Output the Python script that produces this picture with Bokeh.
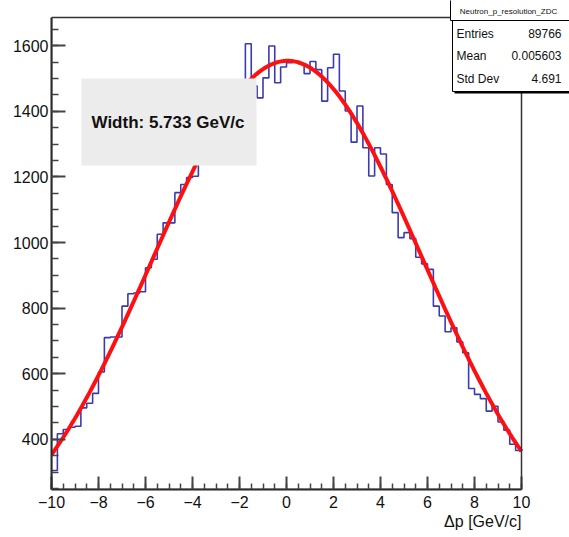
import numpy as np
from bokeh.plotting import figure
from bokeh.models import BoxAnnotation, Label, FixedTicker, Range1d, Title
from bokeh.embed import file_html
from bokeh.resources import INLINE

# ---------------- data ----------------
bin_lo, bin_hi = -10.0, 10.0
counts = [305, 417, 430, 437, 440, 496, 510, 540, 605, 710,
          712, 712, 806, 844, 846, 850, 923, 949, 1025, 1060,
          1060, 1152, 1177, 1198, 1202, 1262, 1318, 1330, 1375, 1388,
          1430, 1452, 1466, 1606, 1477, 1441, 1502, 1599, 1487, 1535,
          1548, 1552, 1545, 1515, 1552, 1527, 1431, 1533, 1574, 1462,
          1401, 1306, 1416, 1289, 1203, 1289, 1270, 1177, 1091, 1015,
          1030, 1012, 955, 935, 918, 806, 776, 728, 740, 697,
          664, 555, 537, 524, 486, 501, 453, 428, 385, 366]

# gaussian fit (+ small constant) parameters
fit_const = 24.0
fit_amp = 1530.0
fit_mean = 0.05
fit_sigma = 5.733

x_ticks = [-10, -8, -6, -4, -2, 0, 2, 4, 6, 8, 10]
x_tick_labels = ["\u221210", "\u22128", "\u22126", "\u22124", "\u22122", "0", "2", "4", "6", "8", "10"]
y_ticks = [400, 600, 800, 1000, 1200, 1400, 1600]
y_tick_labels = ["400", "600", "800", "1000", "1200", "1400", "1600"]

hist_name = "Neutron_p_resolution_ZDC"
stats_names = ["Entries", "Mean", "Std Dev"]
stats_values = ["89766", "0.005603", "4.691"]
width_text = "Width: 5.733 GeV/c"
x_title = "\u0394p [GeV/c]"

# axis extents (ROOT frame)
x_min, x_max = -10.0, 10.0
y_min, y_max = 247.0, 1686.0

# ---------------- layout ----------------
W, H = 569, 537
B_L, B_B = 51, 48               # left / bottom borders for the axes
AX_L, AX_R = 51, 521            # pixel position of x_min / x_max
AX_T, AX_B = 17, 489            # pixel position of y_max / y_min
FONT = "Liberation Sans"

# the plotting frame reaches the right and top canvas edges so that the
# stats box (which sticks out of the ROOT frame) is not clipped
sx_per_px = (x_max - x_min) / (AX_R - AX_L)
sy_per_px = (y_max - y_min) / (AX_B - AX_T)
x_end = x_min + (W - AX_L) * sx_per_px
y_top = y_min + AX_B * sy_per_px


def px2x(px):
    return x_min + (px - AX_L) * sx_per_px


def py2y(py):
    return y_min + (AX_B - py) * sy_per_px


p = figure(width=W, height=H, x_range=Range1d(x_min, x_end), y_range=Range1d(y_min, y_top),
           output_backend="svg", toolbar_location=None,
           min_border_left=B_L, min_border_right=0, min_border_top=0, min_border_bottom=B_B,
           background_fill_color="white", border_fill_color="white")
p.grid.visible = False
p.outline_line_color = None

# histogram as a step outline
edges = np.linspace(bin_lo, bin_hi, len(counts) + 1)
p.step(x=list(edges), y=counts + [counts[-1]], mode="after", line_color="#3a3ab4", line_width=1.6)

# fit curve
xf = np.linspace(bin_lo, bin_hi, 400)
yf = fit_const + fit_amp * np.exp(-0.5 * ((xf - fit_mean) / fit_sigma) ** 2)
p.line(xf, yf, line_color="#ff1010", line_width=4)

# ROOT frame box
p.add_layout(BoxAnnotation(left=x_min, right=x_max, top=y_max, bottom=y_min,
                           fill_alpha=0.0, line_color="#333333", line_alpha=1.0, line_width=1.5))

# axes
p.xaxis.ticker = FixedTicker(ticks=x_ticks, minor_ticks=list(np.arange(x_min, x_max + 0.01, 0.5)))
p.yaxis.ticker = FixedTicker(ticks=y_ticks, minor_ticks=list(np.arange(250, 1700, 50)))
p.xaxis.major_label_overrides = dict(zip(x_ticks, x_tick_labels))
p.yaxis.major_label_overrides = dict(zip(y_ticks, y_tick_labels))
p.xaxis.bounds = (x_min, x_max)
p.yaxis.bounds = (y_min, y_max)
for ax in (p.xaxis[0], p.yaxis[0]):
    ax.axis_line_color = "#222222"
    ax.axis_line_width = 2
    ax.major_tick_out = 0
    ax.minor_tick_out = 0
    ax.major_tick_line_color = "#444444"
    ax.minor_tick_line_color = "#444444"
    ax.major_tick_line_width = 2
    ax.minor_tick_line_width = 1.5
    ax.major_label_text_font = FONT
    ax.major_label_text_font_size = "16px"
    ax.major_label_text_color = "#111111"
p.xaxis.major_tick_in = 13
p.xaxis.minor_tick_in = 6
p.xaxis.major_label_standoff = 6
p.yaxis.major_tick_in = 14
p.yaxis.minor_tick_in = 7
p.yaxis.major_label_standoff = 3

# x axis title, right aligned under the frame end (ROOT style)
p.add_layout(Title(text=x_title, align="right", offset=W - AX_R, standoff=0,
                   text_font=FONT, text_font_size="16px", text_font_style="normal",
                   text_color="#111111"), "below")

# width text box
p.add_layout(BoxAnnotation(left=px2x(81), right=px2x(256), top=py2y(78), bottom=py2y(165),
                           fill_color="#ececec", fill_alpha=1.0, line_alpha=0.0))
p.add_layout(Label(x=px2x(91), y=py2y(122), text=width_text, text_align="left", text_baseline="middle",
                   text_font=FONT, text_font_style="bold", text_font_size="17px", text_color="#111111"))

# stats box (shadow, box, title box) -- canvas units
CU = dict(left_units="canvas", right_units="canvas", top_units="canvas", bottom_units="canvas")
LU = dict(x_units="canvas", y_units="canvas")
p.add_layout(BoxAnnotation(left=454, right=580, top=22, bottom=93,
                           fill_color="#000000", fill_alpha=1.0, line_alpha=0.0, **CU))
p.add_layout(BoxAnnotation(left=452, right=580, top=20, bottom=91,
                           fill_color="white", fill_alpha=1.0, line_color="#000000", line_alpha=1.0,
                           line_width=1, **CU))
p.add_layout(BoxAnnotation(left=450, right=580, top=-2, bottom=20,
                           fill_color="white", fill_alpha=1.0, line_color="#000000", line_alpha=1.0,
                           line_width=1, **CU))
p.add_layout(Label(x=508, y=11, text=hist_name, text_align="center", text_baseline="middle",
                   text_font=FONT, text_font_size="8px", text_color="#111111", **LU))
row_y = [33, 55, 78]
for name, val, ry in zip(stats_names, stats_values, row_y):
    p.add_layout(Label(x=456, y=ry, text=name, text_align="left", text_baseline="middle",
                       text_font=FONT, text_font_size="12px", text_color="#111111", **LU))
    p.add_layout(Label(x=561, y=ry, text=val, text_align="right", text_baseline="middle",
                       text_font=FONT, text_font_size="12px", text_color="#111111", **LU))

open("out.html", "w").write(file_html(p, INLINE))
